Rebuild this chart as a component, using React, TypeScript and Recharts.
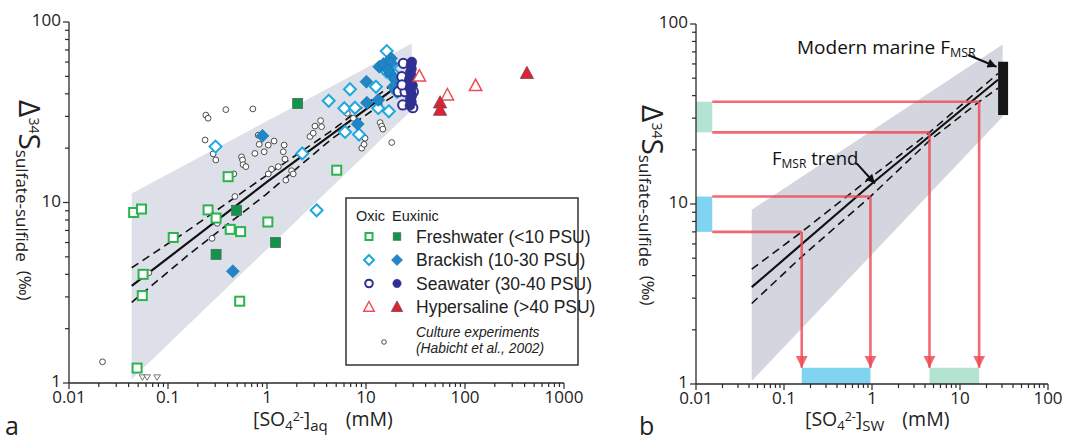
import React from 'react';
import {
  Area,
  ComposedChart,
  Line,
  ReferenceArea,
  ReferenceLine,
  Scatter,
  XAxis,
  YAxis,
} from 'recharts';

type Pt = [number, number];

// ---- panel a: measured fractionations, [SO4] (mM) vs D34S (permil)
const freshOxic: Pt[] = [
  [0.045, 8.8], [0.054, 9.2], [0.254, 9.1], [0.306, 8.2], [0.113, 6.4], [0.425, 7.1],
  [0.541, 6.9], [1.02, 7.8], [0.056, 4.0], [0.055, 3.05], [0.53, 2.84], [0.0487, 1.21],
  [0.405, 13.9], [5.06, 15.1],
];
const freshEux: Pt[] = [[2.04, 35.4], [0.493, 9.05], [0.306, 5.16], [1.22, 6.0]];
const brackishOxic: Pt[] = [
  [0.302, 20.4], [2.27, 18.7], [3.17, 9.05], [4.2, 36.6], [6.04, 33.3], [7.74, 33.5],
  [6.89, 42.4], [6.14, 24.6], [8.5, 23.8], [12.6, 43.8], [13.3, 33.3], [17, 32],
  [16.2, 69], [16.2, 53], [21.1, 45.9], [18.3, 57.8], [20.6, 41], [19.6, 50.9],
];
const brackishEux: Pt[] = [
  [0.9, 23.4], [0.452, 4.16], [10.1, 46.7], [10.2, 35.7], [8.24, 27.2], [13.3, 37],
  [13.6, 56.5], [15, 58.5], [17.9, 62.9], [17.9, 59], [17.5, 52], [19.6, 48],
  [18.9, 43.8], [16.7, 54.2],
];
const seawaterOxic: Pt[] = [
  [23.8, 59], [23.5, 34.7], [29.7, 33.5], [21.2, 41.1], [24.8, 41.1], [30.1, 41.1],
  [23, 49.8], [27.9, 48.8], [23.1, 44.8],
];
const seawaterEux: Pt[] = [
  [28.5, 58], [28.8, 55], [28, 52.5], [29, 50], [27.5, 48], [28.5, 46], [29.5, 44.5],
  [27.8, 43], [28.5, 41], [29, 39], [28, 37.5], [28.8, 36], [27.8, 34.5], [29, 60],
];
const hyperOxic: Pt[] = [[34.6, 50.2], [66.4, 39.4], [128, 44.4]];
const hyperEux: Pt[] = [[56, 35.7], [56, 32.5], [422, 52]];
const culture: Pt[] = [
  [0.241, 30.5], [0.254, 29.3], [0.384, 32.7], [0.72, 33], [0.237, 22.2], [0.286, 18.6],
  [0.304, 17.2], [0.815, 23.6], [0.834, 21], [1.03, 20.8], [1.18, 21.9], [1.49, 20.8],
  [1.46, 19.1], [0.755, 18.7], [0.937, 19.1], [0.553, 17.9], [0.566, 17.2], [0.574, 16.2],
  [0.612, 15.8], [0.462, 14.4], [1.11, 15.3], [1.3, 15.8], [1.52, 17.4], [1.03, 14.4],
  [1.55, 13.3], [1.77, 15], [1.84, 14.4], [2.72, 23.2], [2.93, 24.2], [3.05, 26.5],
  [3.56, 26.3], [3.48, 28.4], [6.47, 31.2], [7.45, 29.3], [9.06, 20], [9.55, 21],
  [9.77, 22.7], [13.9, 27.7], [14.4, 26.5], [14.8, 25.5], [18.2, 21.5], [0.474, 10.8],
  [0.314, 7.67], [0.279, 6.33], [0.064, 4.08], [0.0218, 1.31],
];
const belowDetection: Pt[] = [[0.0552, 1.075], [0.0615, 1.075], [0.0776, 1.075]];

// regression trend with its confidence limits (same in both panels)
const trendMid: Pt[] = [[0.043, 3.45], [1, 13], [27, 49]];
const trendUpper: Pt[] = [[0.043, 4.35], [0.159, 7], [1, 14.2], [4.5, 25], [27, 53]];
const trendLower: Pt[] = [[0.043, 2.8], [0.159, 5.1], [0.96, 11], [4.5, 22.5], [16.5, 37], [27, 44]];

// grey envelope: [x, low, high]
const envelopeA: [number, number, number][] = [[0.043, 1.05, 11.2], [29, 32.5, 76]];
const envelopeB: [number, number, number][] = [[0.043, 1.04, 9.3], [30.5, 30.5, 77]];

// ---- panel b: fractionation windows mapped to seawater sulfate
const cyanDelta = [7, 11];
const cyanConc = [0.159, 0.96];
const greenDelta = [25, 37];
const greenConc = [4.5, 16.5];
const boxEdgeX = 0.0153;
const barTopY = 1.23;
const modernBar = { x: [27.1, 35.2], y: [31.2, 61.7] };
const modernArrow: Pt[] = [[12.4, 67.3], [26, 57.9]];
const trendArrow: Pt[] = [[0.67, 16.8], [1.08, 13.0]];

// ---- axes
const xMajorA = [0.01, 0.1, 1, 10, 100, 1000];
const xLabelsA = ['0.01', '0.1', '1', '10', '100', '1000'];
const xMajorB = [0.01, 0.1, 1, 10, 100];
const xLabelsB = ['0.01', '0.1', '1', '10', '100'];
const yMajor = [1, 10, 100];
const yLabels = ['1', '10', '100'];

const withMinor = (majors: number[]) => {
  const out: number[] = [];
  majors.forEach((m, i) => {
    out.push(m);
    if (i < majors.length - 1) for (let k = 2; k <= 9; k++) out.push(+(m * k).toPrecision(6));
  });
  return out;
};

const xy = (pts: Pt[]) => pts.map(([x, y]) => ({ x, y }));
const envelope = (rows: [number, number, number][]) => rows.map(([x, lo, hi]) => ({ x, band: [lo, hi] }));

const AXIS = '#2a2a2a';
const FONT = '"Open Sans", "Noto Sans", sans-serif';
const LEGEND_FONT = '"Liberation Sans", Arial, sans-serif';
const GREEN_O = '#2bb34f';
const GREEN_F = '#10954a';
const CYAN_O = '#1fa8df';
const CYAN_F = '#1f86c8';
const NAVY = '#2e3192';
const RED_O = '#f04b56';
const RED_F = '#e4202d';
const RED_LINE = 'rgba(238, 72, 84, 0.82)';
const CYAN_BOX = '#80d4f1';
const GREEN_BOX = '#b5e3d2';

const majorIndex = (v: number, majors: number[]) => majors.findIndex((m) => Math.abs(v / m - 1) < 1e-6);

const makeXTick = (majors: number[], labels: string[]) => (p: any) => {
  const i = majorIndex(p.payload.value, majors);
  return (
    <g>
      <line x1={p.x} x2={p.x} y1={p.y} y2={p.y + (i >= 0 ? 6 : 4)} stroke={AXIS} strokeWidth={1.2} />
      {i >= 0 && (
        <text x={p.x} y={p.y + 20} textAnchor="middle" fontSize={17} fontFamily={FONT} fill="#222">
          {labels[i]}
        </text>
      )}
    </g>
  );
};

const makeYTick = (majors: number[], labels: string[]) => (p: any) => {
  const i = majorIndex(p.payload.value, majors);
  return (
    <g>
      <line x1={p.x - (i >= 0 ? 6 : 4)} x2={p.x} y1={p.y} y2={p.y} stroke={AXIS} strokeWidth={1.2} />
      {i >= 0 && (
        <text x={p.x - 8} y={p.y} dy="0.26em" textAnchor="end" fontSize={17} fontFamily={FONT} fill="#222">
          {labels[i]}
        </text>
      )}
    </g>
  );
};

// ---- marker glyphs (used by the scatters and the legend)
const OpenSquare = ({ cx, cy, s = 9 }: any) => (
  <rect x={cx - s / 2} y={cy - s / 2} width={s} height={s} fill="#fff" stroke={GREEN_O} strokeWidth={2} />
);
const FullSquare = ({ cx, cy, s = 10 }: any) => (
  <rect x={cx - s / 2} y={cy - s / 2} width={s} height={s} fill={GREEN_F} stroke="#4f6b58" strokeWidth={0.8} />
);
const diamondPts = (cx: number, cy: number, r: number) =>
  `${cx},${cy - r} ${cx + r},${cy} ${cx},${cy + r} ${cx - r},${cy}`;
const OpenDiamond = ({ cx, cy, r = 6 }: any) => (
  <polygon points={diamondPts(cx, cy, r)} fill="#fff" stroke={CYAN_O} strokeWidth={2} />
);
const FullDiamond = ({ cx, cy, r = 6.5 }: any) => (
  <polygon points={diamondPts(cx, cy, r)} fill={CYAN_F} stroke="#1a6fa6" strokeWidth={0.6} />
);
const OpenCircle = ({ cx, cy, r = 4.6 }: any) => (
  <circle cx={cx} cy={cy} r={r} fill="#fff" stroke={NAVY} strokeWidth={2} />
);
const FullCircle = ({ cx, cy, r = 5 }: any) => <circle cx={cx} cy={cy} r={r} fill={NAVY} stroke={NAVY} strokeWidth={0.5} />;
const triPts = (cx: number, cy: number, r: number) =>
  `${cx},${cy - r} ${cx + r * 0.95},${cy + r * 0.75} ${cx - r * 0.95},${cy + r * 0.75}`;
const OpenTriangle = ({ cx, cy, r = 6.5 }: any) => (
  <polygon points={triPts(cx, cy, r)} fill="#fff" stroke={RED_O} strokeWidth={1.5} />
);
const FullTriangle = ({ cx, cy, r = 7 }: any) => (
  <polygon points={triPts(cx, cy, r)} fill={RED_F} stroke="#6b4a66" strokeWidth={0.8} />
);
const CultureDot = ({ cx, cy, r = 2.9 }: any) => (
  <circle cx={cx} cy={cy} r={r} fill="#fff" stroke="#3a3a3a" strokeWidth={0.9} />
);
const DownTriangle = ({ cx, cy }: any) => (
  <polygon points={`${cx - 3.3},${cy - 2.5} ${cx + 3.3},${cy - 2.5} ${cx},${cy + 3}`} fill="#fff" stroke="#666" strokeWidth={0.9} />
);

const segShape = (color: string, width: number, marker?: string) => (p: any) => (
  <line
    x1={p.x1}
    y1={p.y1}
    x2={p.x2}
    y2={p.y2}
    stroke={color}
    strokeWidth={width}
    markerEnd={marker ? `url(#${marker})` : undefined}
  />
);

const trendLines = () => [
  <Line key="mid" data={xy(trendMid)} dataKey="y" type="linear" stroke="#111" strokeWidth={2.2} dot={false} isAnimationActive={false} />,
  <Line key="up" data={xy(trendUpper)} dataKey="y" type="linear" stroke="#111" strokeWidth={1.6} strokeDasharray="8 5" dot={false} isAnimationActive={false} />,
  <Line key="lo" data={xy(trendLower)} dataKey="y" type="linear" stroke="#111" strokeWidth={1.6} strokeDasharray="8 5" dot={false} isAnimationActive={false} />,
];

const ChartA = () => (
  <ComposedChart width={600} height={444} margin={{ top: 22, right: 36, bottom: 0, left: 0 }}>
    <XAxis
      dataKey="x"
      type="number"
      scale="log"
      domain={[0.01, 1000]}
      allowDataOverflow
      ticks={withMinor(xMajorA)}
      interval={0}
      height={61}
      tickSize={0}
      tickMargin={0}
      tickLine={false}
      tick={makeXTick(xMajorA, xLabelsA)}
      axisLine={{ stroke: AXIS, strokeWidth: 1.3 }}
    />
    <YAxis
      dataKey="y"
      type="number"
      scale="log"
      domain={[1, 100]}
      allowDataOverflow
      ticks={withMinor(yMajor)}
      interval={0}
      width={69}
      tickSize={0}
      tickMargin={0}
      tickLine={false}
      tick={makeYTick(yMajor, yLabels)}
      axisLine={{ stroke: AXIS, strokeWidth: 1.3 }}
    />
    <Area data={envelope(envelopeA)} dataKey="band" type="linear" stroke="none" fill="#dde0e9" fillOpacity={1} isAnimationActive={false} />
    <Scatter data={xy(culture)} dataKey="y" shape={(p: any) => <CultureDot cx={p.cx} cy={p.cy} />} isAnimationActive={false} />
    <Scatter data={xy(belowDetection)} dataKey="y" shape={(p: any) => <DownTriangle cx={p.cx} cy={p.cy} />} isAnimationActive={false} />
    {trendLines()}
    <Scatter data={xy(freshOxic)} dataKey="y" shape={(p: any) => <OpenSquare cx={p.cx} cy={p.cy} />} isAnimationActive={false} />
    <Scatter data={xy(freshEux)} dataKey="y" shape={(p: any) => <FullSquare cx={p.cx} cy={p.cy} />} isAnimationActive={false} />
    <Scatter data={xy(brackishOxic)} dataKey="y" shape={(p: any) => <OpenDiamond cx={p.cx} cy={p.cy} />} isAnimationActive={false} />
    <Scatter data={xy(brackishEux)} dataKey="y" shape={(p: any) => <FullDiamond cx={p.cx} cy={p.cy} />} isAnimationActive={false} />
    <Scatter data={xy(seawaterOxic)} dataKey="y" shape={(p: any) => <OpenCircle cx={p.cx} cy={p.cy} />} isAnimationActive={false} />
    <Scatter data={xy(seawaterEux)} dataKey="y" shape={(p: any) => <FullCircle cx={p.cx} cy={p.cy} />} isAnimationActive={false} />
    <Scatter data={xy(hyperOxic)} dataKey="y" shape={(p: any) => <OpenTriangle cx={p.cx} cy={p.cy} />} isAnimationActive={false} />
    <Scatter data={xy(hyperEux)} dataKey="y" shape={(p: any) => <FullTriangle cx={p.cx} cy={p.cy} />} isAnimationActive={false} />
  </ComposedChart>
);

const redPaths = (deltas: number[], concs: number[]) =>
  deltas.flatMap((d, i) => [
    <ReferenceLine
      key={`h${d}`}
      segment={[{ x: boxEdgeX, y: d }, { x: concs[i], y: d }]}
      ifOverflow="visible"
      shape={segShape(RED_LINE, 2.6)}
    />,
    <ReferenceLine
      key={`v${d}`}
      segment={[{ x: concs[i], y: d }, { x: concs[i], y: barTopY }]}
      ifOverflow="visible"
      shape={segShape(RED_LINE, 2.6, 'redArrow')}
    />,
  ]);

const ChartB = () => (
  <ComposedChart width={465} height={444} margin={{ top: 24, right: 17, bottom: 0, left: 0 }}>
    <XAxis
      dataKey="x"
      type="number"
      scale="log"
      domain={[0.01, 100]}
      allowDataOverflow
      ticks={withMinor(xMajorB)}
      interval={0}
      height={60}
      tickSize={0}
      tickMargin={0}
      tickLine={false}
      tick={makeXTick(xMajorB, xLabelsB)}
      axisLine={{ stroke: AXIS, strokeWidth: 1.3 }}
    />
    <YAxis
      dataKey="y"
      type="number"
      scale="log"
      domain={[1, 100]}
      allowDataOverflow
      ticks={withMinor(yMajor)}
      interval={0}
      width={96}
      tickSize={0}
      tickMargin={0}
      tickLine={false}
      tick={makeYTick(yMajor, yLabels)}
      axisLine={{ stroke: AXIS, strokeWidth: 1.3 }}
    />
    <Area data={envelope(envelopeB)} dataKey="band" type="linear" stroke="none" fill="#d3d6de" fillOpacity={1} isAnimationActive={false} />
    {trendLines()}
    <ReferenceArea x1={0.01} x2={boxEdgeX} y1={cyanDelta[0]} y2={cyanDelta[1]} fill={CYAN_BOX} fillOpacity={1} stroke="none" ifOverflow="visible" />
    <ReferenceArea x1={0.01} x2={boxEdgeX} y1={greenDelta[0]} y2={greenDelta[1]} fill={GREEN_BOX} fillOpacity={1} stroke="none" ifOverflow="visible" />
    <ReferenceArea x1={cyanConc[0]} x2={cyanConc[1]} y1={1} y2={barTopY} fill={CYAN_BOX} fillOpacity={1} stroke="none" ifOverflow="visible" />
    <ReferenceArea x1={greenConc[0]} x2={greenConc[1]} y1={1} y2={barTopY} fill={GREEN_BOX} fillOpacity={1} stroke="none" ifOverflow="visible" />
    {redPaths(cyanDelta, cyanConc)}
    {redPaths(greenDelta, greenConc)}
    <ReferenceArea x1={modernBar.x[0]} x2={modernBar.x[1]} y1={modernBar.y[0]} y2={modernBar.y[1]} fill="#161616" fillOpacity={1} stroke="none" ifOverflow="visible" />
    <ReferenceLine
      segment={[{ x: modernArrow[0][0], y: modernArrow[0][1] }, { x: modernArrow[1][0], y: modernArrow[1][1] }]}
      ifOverflow="visible"
      shape={segShape('#111', 2, 'blackArrow')}
    />
    <ReferenceLine
      segment={[{ x: trendArrow[0][0], y: trendArrow[0][1] }, { x: trendArrow[1][0], y: trendArrow[1][1] }]}
      ifOverflow="visible"
      shape={segShape('#111', 2, 'blackArrow')}
    />
  </ComposedChart>
);

const YTitle = ({ x, y }: { x: number; y: number }) => (
  <text transform={`translate(${x},${y}) rotate(90)`} fontFamily={FONT} fill="#222">
    <tspan fontSize={30}>Δ</tspan>
    <tspan fontSize={14} dy={-10}>34</tspan>
    <tspan fontSize={30} dy={10}>S</tspan>
    <tspan fontSize={17} dy={3}>sulfate-sulfide</tspan>
    <tspan fontSize={17} dy={-3} dx={9}>(‰)</tspan>
  </text>
);

const XTitle = ({ x, y, sub }: { x: number; y: number; sub: string }) => (
  <text x={x} y={y} fontFamily={FONT} fontSize={19.5} fill="#222">
    [SO
    <tspan fontSize={13} dy={4}>4</tspan>
    <tspan fontSize={12.5} dy={-9}>2-</tspan>
    <tspan dy={5}>]</tspan>
    <tspan fontSize={15} dy={5}>{sub}</tspan>
    <tspan dy={-5} dx={18}>(mM)</tspan>
  </text>
);

const legendRows = [
  { label: 'Freshwater (<10 PSU)', open: OpenSquare, full: FullSquare },
  { label: 'Brackish (10-30 PSU)', open: OpenDiamond, full: FullDiamond },
  { label: 'Seawater (30-40 PSU)', open: OpenCircle, full: FullCircle },
  { label: 'Hypersaline (>40 PSU)', open: OpenTriangle, full: FullTriangle },
];

const Overlay = () => (
  <svg width={1065} height={444} style={{ position: 'absolute', left: 0, top: 0, pointerEvents: 'none' }}>
    <defs>
      <marker id="redArrow" viewBox="0 0 10 10" refX={10} refY={5} markerUnits="userSpaceOnUse" markerWidth={12} markerHeight={13} orient="auto">
        <path d="M0,0 L10,5 L0,10 z" fill={RED_LINE} />
      </marker>
      <marker id="blackArrow" viewBox="0 0 10 10" refX={10} refY={5} markerUnits="userSpaceOnUse" markerWidth={11} markerHeight={9} orient="auto">
        <path d="M0,0 L10,5 L0,10 z" fill="#111" />
      </marker>
    </defs>

    {/* panel a */}
    <YTitle x={18.5} y={100} />
    <XTitle x={253} y={426} sub="aq" />
    <text x={5} y={435} fontFamily={FONT} fontSize={25} fill="#222">a</text>

    <rect x={346} y={198} width={232} height={167} fill="#fff" stroke="#333" strokeWidth={1.5} />
    <text x={356} y={221} fontFamily={LEGEND_FONT} fontSize={14.5} fill="#222">Oxic</text>
    <text x={392} y={221} fontFamily={LEGEND_FONT} fontSize={14.5} fill="#222">Euxinic</text>
    {legendRows.map((r, i) => {
      const cy = 236.5 + i * 23.5;
      const Open = r.open;
      const Full = r.full;
      return (
        <g key={r.label}>
          <Open cx={369} cy={cy} s={7} r={i === 3 ? 5.5 : i === 2 ? 3.8 : 5} />
          <Full cx={397} cy={cy} s={7.5} r={i === 3 ? 6 : i === 2 ? 4.2 : 5.5} />
          <text x={416} y={cy + 6} fontFamily={LEGEND_FONT} fontSize={17.5} fill="#222">
            {r.label}
          </text>
        </g>
      );
    })}
    <CultureDot cx={384} cy={342} r={2.3} />
    <text x={416} y={337} fontFamily={LEGEND_FONT} fontSize={13.8} fontStyle="italic" fill="#222">Culture experiments</text>
    <text x={416} y={352.5} fontFamily={LEGEND_FONT} fontSize={13.8} fontStyle="italic" fill="#222">(Habicht et al., 2002)</text>

    {/* panel b */}
    <YTitle x={642} y={105} />
    <XTitle x={805} y={426} sub="SW" />
    <text x={639} y={435} fontFamily={FONT} fontSize={25} fill="#222">b</text>
    <text x={797} y={54} fontFamily={FONT} fontSize={19} fill="#111">
      Modern marine F<tspan fontSize={12.5} dy={3}>MSR</tspan>
    </text>
    <text x={772} y={165} fontFamily={FONT} fontSize={18.5} fill="#111">
      F<tspan fontSize={12} dy={3}>MSR</tspan>
      <tspan dy={-3}> trend</tspan>
    </text>
  </svg>
);

const App: React.FC = () => (
  <div style={{ position: 'fixed', left: 0, top: 0, width: 1065, height: 444, background: '#fff', overflow: 'hidden' }}>
    <div style={{ position: 'absolute', left: 0, top: 0 }}>
      <ChartA />
    </div>
    <div style={{ position: 'absolute', left: 600, top: 0 }}>
      <ChartB />
    </div>
    <Overlay />
  </div>
);

export default App;
